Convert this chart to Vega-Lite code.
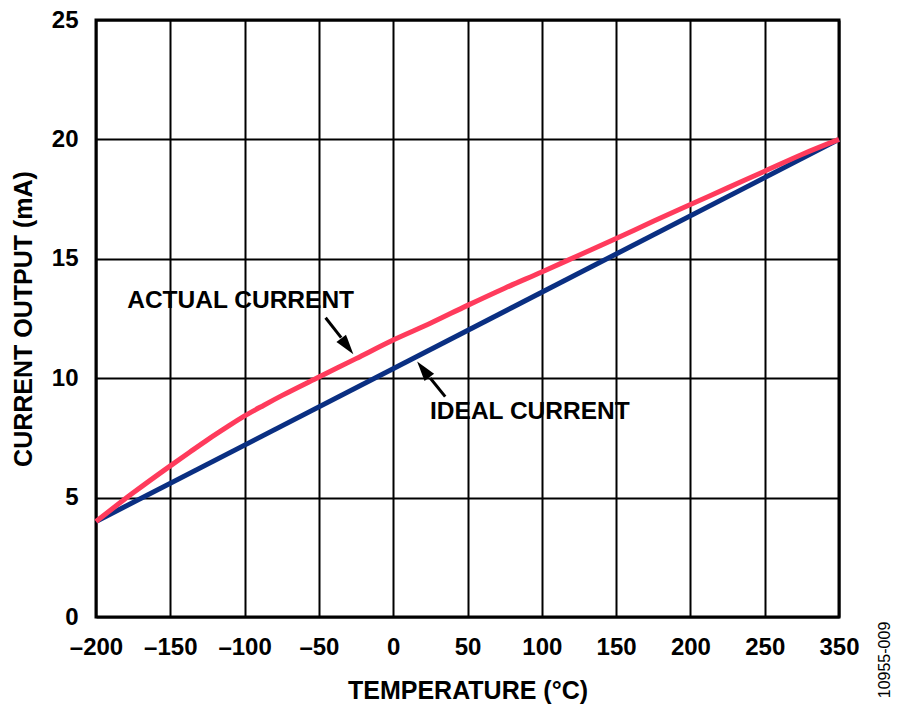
{
  "$schema": "https://vega.github.io/schema/vega-lite/v6.json",
  "width": 743,
  "height": 597,
  "autosize": {"type": "none"},
  "padding": {"left": 96, "top": 20, "right": 61, "bottom": 97},
  "background": "white",
  "datasets": {
    "curves": [
      {"series": "Ideal", "temperature": -200, "current": 4.0},
      {"series": "Ideal", "temperature": 300, "current": 20.0},
      {"series": "Actual", "temperature": -200, "current": 4.0},
      {"series": "Actual", "temperature": -175, "current": 5.2},
      {"series": "Actual", "temperature": -150, "current": 6.33},
      {"series": "Actual", "temperature": -137, "current": 6.9},
      {"series": "Actual", "temperature": -125, "current": 7.42},
      {"series": "Actual", "temperature": -112, "current": 7.95},
      {"series": "Actual", "temperature": -100, "current": 8.42},
      {"series": "Actual", "temperature": -87, "current": 8.87},
      {"series": "Actual", "temperature": -75, "current": 9.27},
      {"series": "Actual", "temperature": -50, "current": 10.05},
      {"series": "Actual", "temperature": -25, "current": 10.82},
      {"series": "Actual", "temperature": 0, "current": 11.6},
      {"series": "Actual", "temperature": 25, "current": 12.3},
      {"series": "Actual", "temperature": 50, "current": 13.05},
      {"series": "Actual", "temperature": 75, "current": 13.77},
      {"series": "Actual", "temperature": 100, "current": 14.45},
      {"series": "Actual", "temperature": 125, "current": 15.15},
      {"series": "Actual", "temperature": 150, "current": 15.85},
      {"series": "Actual", "temperature": 175, "current": 16.57},
      {"series": "Actual", "temperature": 200, "current": 17.27},
      {"series": "Actual", "temperature": 225, "current": 17.97},
      {"series": "Actual", "temperature": 250, "current": 18.67},
      {"series": "Actual", "temperature": 275, "current": 19.37},
      {"series": "Actual", "temperature": 300, "current": 20.0}
    ]
  },
  "layer": [
    {
      "data": {"name": "curves"},
      "transform": [{"filter": "datum.series == 'Ideal'"}],
      "mark": {"type": "line", "color": "#0A2F82", "strokeWidth": 5},
      "encoding": {
        "x": {
          "field": "temperature",
          "type": "quantitative",
          "scale": {"domain": [-200, 300], "nice": false},
          "axis": {
            "values": [-200, -150, -100, -50, 0, 50, 100, 150, 200, 250, 300],
            "labelExpr": "datum.value == 300 ? '350' : (datum.value < 0 ? '–' + (-datum.value) : '' + datum.value)",
            "title": "TEMPERATURE (°C)",
            "labelPadding": 18,
            "titlePadding": 19,
            "labelFlush": false,
            "labelOverlap": false
          }
        },
        "y": {
          "field": "current",
          "type": "quantitative",
          "scale": {"domain": [0, 25], "nice": false},
          "axis": {
            "values": [0, 5, 10, 15, 20, 25],
            "title": "CURRENT OUTPUT (mA)",
            "labelPadding": 18,
            "titlePadding": 15,
            "labelFlush": false,
            "labelOverlap": false
          }
        }
      }
    },
    {
      "data": {"name": "curves"},
      "transform": [{"filter": "datum.series == 'Actual'"}],
      "mark": {"type": "line", "color": "#FF3B5C", "strokeWidth": 5, "interpolate": "monotone"},
      "encoding": {
        "x": {"field": "temperature", "type": "quantitative"},
        "y": {"field": "current", "type": "quantitative"}
      }
    },
    {
      "data": {"values": [{}]},
      "mark": {"type": "text", "align": "left", "baseline": "middle", "font": "Liberation Sans", "fontWeight": "bold", "fontSize": 24.5, "color": "black"},
      "encoding": {
        "x": {"datum": -179},
        "y": {"datum": 13.23},
        "text": {"value": "ACTUAL CURRENT"}
      }
    },
    {
      "data": {"values": [{}]},
      "mark": {"type": "text", "align": "left", "baseline": "middle", "font": "Liberation Sans", "fontWeight": "bold", "fontSize": 24.5, "color": "black"},
      "encoding": {
        "x": {"datum": 24.8},
        "y": {"datum": 8.58},
        "text": {"value": "IDEAL CURRENT"}
      }
    },
    {
      "data": {"values": [{}]},
      "mark": {"type": "rule", "color": "black", "strokeWidth": 3},
      "encoding": {
        "x": {"datum": -45.5},
        "y": {"datum": 12.53},
        "x2": {"datum": -35},
        "y2": {"datum": 11.7}
      }
    },
    {
      "data": {"values": [{}]},
      "mark": {"type": "rule", "color": "black", "strokeWidth": 3},
      "encoding": {
        "x": {"datum": 35},
        "y": {"datum": 9.23},
        "x2": {"datum": 25},
        "y2": {"datum": 10.0}
      }
    },
    {
      "data": {"values": [{}]},
      "mark": {"type": "point", "shape": "M0,0 L0.6,2 L-0.6,2 Z", "filled": true, "color": "black", "opacity": 1, "size": 400, "angle": 142.6},
      "encoding": {
        "x": {"datum": -26.8},
        "y": {"datum": 11.0}
      }
    },
    {
      "data": {"values": [{}]},
      "mark": {"type": "point", "shape": "M0,0 L0.6,2 L-0.6,2 Z", "filled": true, "color": "black", "opacity": 1, "size": 400, "angle": 322.4},
      "encoding": {
        "x": {"datum": 16.1},
        "y": {"datum": 10.7}
      }
    },
    {
      "data": {"values": [{}]},
      "mark": {"type": "text", "align": "center", "baseline": "middle", "angle": 270, "font": "Liberation Sans", "fontSize": 16, "color": "black"},
      "encoding": {
        "x": {"datum": 331},
        "y": {"datum": -1.8},
        "text": {"value": "10955-009"}
      }
    }
  ],
  "config": {
    "view": {"stroke": "black", "strokeWidth": 3},
    "font": "Liberation Sans",
    "axis": {
      "labelFont": "Liberation Sans",
      "labelFontWeight": "bold",
      "labelFontSize": 24,
      "labelColor": "black",
      "titleFont": "Liberation Sans",
      "titleFontWeight": "bold",
      "titleFontSize": 25,
      "titleColor": "black",
      "domain": false,
      "ticks": false,
      "gridColor": "black",
      "gridWidth": 2,
      "gridOpacity": 1
    }
  }
}
